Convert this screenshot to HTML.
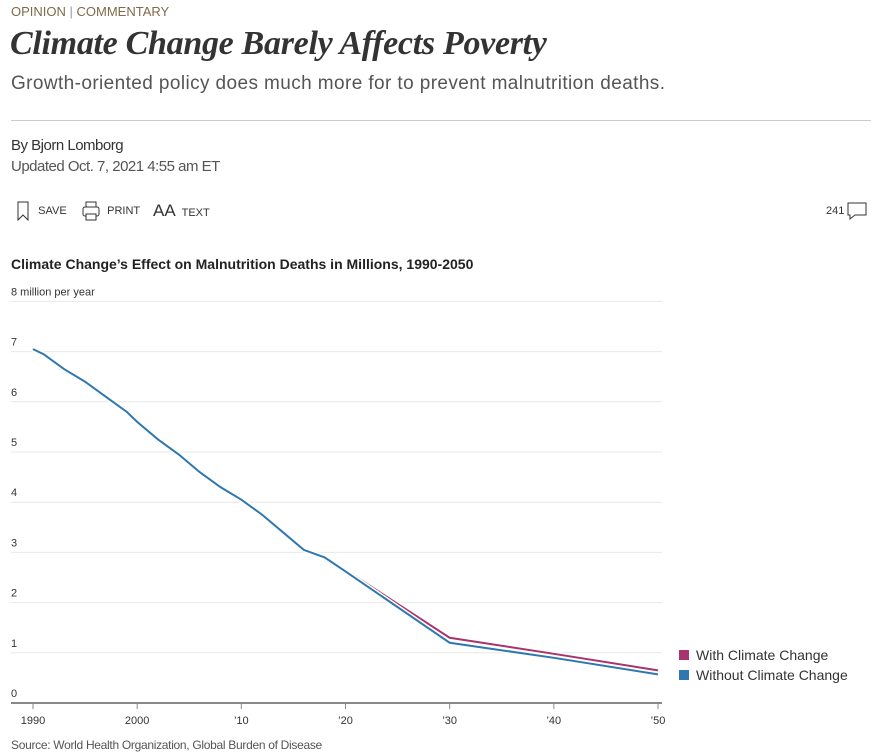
<!DOCTYPE html>
<html><head><meta charset="utf-8"><style>
body{margin:0;width:875px;height:755px;background:#fff;font-family:"Liberation Sans",sans-serif;position:relative;overflow:hidden}
.a{position:absolute;white-space:nowrap}
</style></head><body>
<div class="a" style="left:11px;top:4px;font-size:13px;color:#7f6a4a;letter-spacing:0">OPINION <span style="color:#999">|</span> COMMENTARY</div>
<div class="a" style="left:10px;top:25px;font-family:'Liberation Serif',serif;font-style:italic;font-weight:bold;font-size:34px;color:#333;letter-spacing:-0.3px">Climate Change Barely Affects Poverty</div>
<div class="a" style="left:11px;top:73px;font-size:19px;color:#555;letter-spacing:0.4px">Growth-oriented policy does much more for to prevent malnutrition deaths.</div>
<div class="a" style="left:11px;top:120px;width:860px;height:1px;background:#ccc"></div>
<div class="a" style="left:11px;top:137px;font-size:15px;color:#333;letter-spacing:-0.5px">By Bjorn Lomborg</div>
<div class="a" style="left:11px;top:158px;font-size:15px;color:#555;letter-spacing:-0.5px">Updated Oct. 7, 2021 4:55 am ET</div>
<div class="a" style="left:17px;top:201px;font-size:11px;color:#333"><svg width="12" height="20" style="vertical-align:middle"><path d="M1 1h10v18l-5-5-5 5z" fill="none" stroke="#333"/></svg> &nbsp;&nbsp;SAVE</div>
<div class="a" style="left:81px;top:201px;font-size:11px;color:#333"><svg width="20" height="20" style="vertical-align:middle"><rect x="2" y="6" width="16" height="9" rx="2" fill="none" stroke="#333"/><rect x="5" y="1" width="10" height="5" fill="none" stroke="#333"/><rect x="5" y="13" width="10" height="6" fill="#fff" stroke="#333"/></svg> &nbsp;PRINT</div>
<div class="a" style="left:153px;top:201px;font-size:11px;color:#333"><span style="font-size:17px;font-weight:300">AA</span>&nbsp; TEXT</div>
<div class="a" style="left:826px;top:201px;font-size:11px;color:#333">241 <svg width="20" height="20" style="vertical-align:middle"><path d="M1 2h18v12H8l-5 4v-4H1z" fill="none" stroke="#333"/></svg></div>
<div class="a" style="left:11px;top:256px;font-size:14px;font-weight:bold;color:#222">Climate Change’s Effect on Malnutrition Deaths in Millions, 1990-2050</div>
<svg id="c" class="a" style="left:0;top:280px" width="875" height="460"></svg>
<div class="a" style="left:11px;top:738px;font-size:12px;color:#555;letter-spacing:-0.3px">Source: World Health Organization, Global Burden of Disease</div>
<script>
const years=[1990,1991,1993,1995,1997,1999,2000,2002,2004,2006,2008,2010,2012,2014,2016,2018,2020,2030,2040,2050];
const withCC=[7.05,6.95,6.65,6.4,6.1,5.8,5.6,5.25,4.95,4.6,4.3,4.05,3.75,3.4,3.05,2.9,2.65,1.3,0.98,0.65];
const withoutCC=[7.05,6.95,6.65,6.4,6.1,5.8,5.6,5.25,4.95,4.6,4.3,4.05,3.75,3.4,3.05,2.9,2.62,1.2,0.9,0.57];
const yTicks=[0,1,2,3,4,5,6,7,8];
const xTicks=[1990,2000,2010,2020,2030,2040,2050];
const xLabels=["1990","2000","’10","’20","’30","’40","’50"];
const svg=document.getElementById('c');const NS='http://www.w3.org/2000/svg';
const X=v=>33+(v-1990)*(658-33)/60;const Y=v=>423-v*50.2;
function mk(t,a){const e=document.createElementNS(NS,t);for(const k in a)e.setAttribute(k,a[k]);svg.appendChild(e);return e;}
yTicks.forEach(v=>{
 if(v>0){const g=mk('line',{x1:11,x2:662,y1:Y(v),y2:Y(v),stroke:'#e8e8e8','stroke-width':1});
 
 }
 const t=mk('text',{x:11,y:Y(v)-6,'font-size':11,fill:'#333','font-family':'Liberation Sans, sans-serif'});
 t.textContent=v===8?'8 million per year':String(v);
 
 
});
const ax=mk('line',{x1:11,x2:662,y1:Y(0),y2:Y(0),stroke:'#888','stroke-width':2});


xTicks.forEach((v,i)=>{
 const tk=mk('line',{x1:X(v),x2:X(v),y1:Y(0),y2:Y(0)+6,stroke:'#888'});
 
 
 const t=mk('text',{x:X(v),y:Y(0)+21,'font-size':11,fill:'#333','text-anchor':'middle','font-family':'Liberation Sans, sans-serif'});
 t.textContent=xLabels[i];
 
 
});
function line(vals,col,name){
 const d=years.map((y,i)=>(i?'L':'M')+X(y)+','+Y(vals[i])).join('');
 mk('path',{d:d,fill:'none',stroke:'#fff','stroke-width':5});
 const p=mk('path',{d:d,fill:'none',stroke:col,'stroke-width':2});
 
 
}
line(withCC,'#a8336d','line-with-climate-change');
line(withoutCC,'#2f77b0','line-without-climate-change');
[['With Climate Change','#a8336d',379],['Without Climate Change','#2f77b0',399]].forEach(l=>{
 const r=mk('rect',{x:679,y:l[2]-9,width:10,height:10,fill:l[1]});
 
 
 const t=mk('text',{x:696,y:l[2]+1,'font-size':14,fill:'#333','font-family':'Liberation Sans, sans-serif'});
 t.textContent=l[0];
 
 
});
</script>
</body></html>
